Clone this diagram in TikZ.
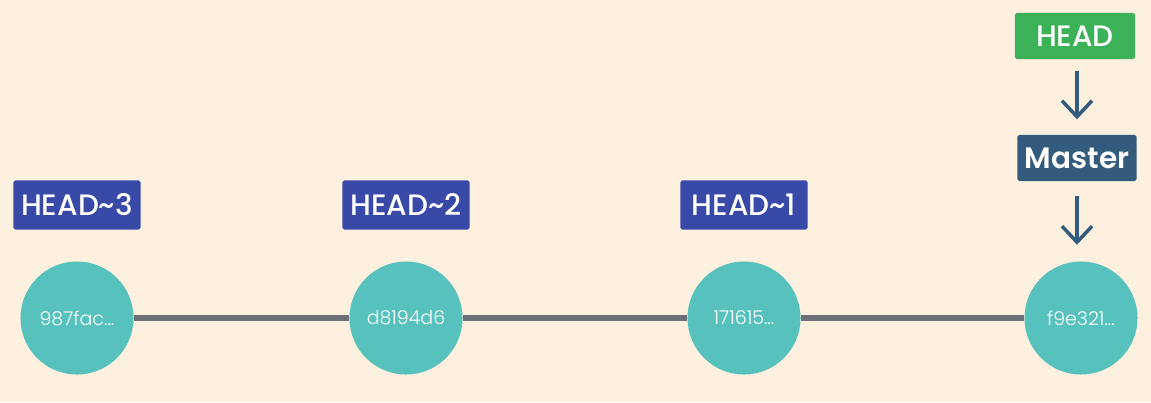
\documentclass[tikz,border=0pt]{standalone}
\usepackage{fontspec}
\usepackage{tikz}
\usepackage{xcolor}
\usetikzlibrary{arrows.meta}
\setmainfont{Poppins}
\newfontfamily\labelfont{Poppins Medium}
\newfontfamily\branchfont{Poppins SemiBold}
\newfontfamily\hashfont{Poppins Light}
\definecolor{paper}{HTML}{FDF0DF}
\definecolor{commitcol}{HTML}{57C2BD}
\definecolor{relcol}{HTML}{3949A8}
\definecolor{headcol}{HTML}{3BB257}
\definecolor{branchcol}{HTML}{335B7E}
\definecolor{linkcol}{HTML}{6B6F76}

\begin{document}
\begin{tikzpicture}[x=0.01cm, y=-0.01cm,
                    commit/.style={circle, fill=commitcol, minimum size=1.13cm, inner sep=0pt,
                                   text=white, font=\hashfont\fontsize{5.4}{6}\selectfont},
                    tag/.style={rounded corners=0.5pt, text=white, minimum width=1.27cm,
                                minimum height=0.49cm, inner sep=0pt,
                                font=\labelfont\fontsize{8.4}{10}\selectfont},
                    reltag/.style={tag, fill=relcol},
                    link/.style={draw=linkcol, line width=0.6mm},
                    pointer/.style={draw=branchcol, line width=0.35mm, -{Straight Barb[length=1.6mm, width=3mm]}}]
                    \fill[paper] (0,0) rectangle (1151,402);
                    \useasboundingbox (0,0) rectangle (1151,402);
                    % commits
                    \node[commit] (c3) at (77,318) {987fac...};
                    \node[commit] (c2) at (406,318) {d8194d6};
                    \node[commit] (c1) at (744,318) {171615...};
                    \node[commit] (c0) at (1081,318) {f9e321...};
                    \draw[link] (c3) -- (c2);
                    \draw[link] (c2) -- (c1);
                    \draw[link] (c1) -- (c0);
                    % relative refs
                    \node[reltag] (h3) at (77,205) {HEAD\textasciitilde3};
                    \node[reltag] (h2) at (406,205) {HEAD\textasciitilde2};
                    \node[reltag] (h1) at (744,205) {HEAD\textasciitilde1};
                    % HEAD -> Master -> commit
                    \node[tag, fill=headcol, minimum width=1.2cm, minimum height=0.46cm] (head) at (1075,36) {HEAD};
                    \node[tag, fill=branchcol, minimum width=1.19cm, minimum height=0.46cm,
                          font=\branchfont\fontsize{8.4}{10}\selectfont] (master) at (1077,158) {Master};
                    \draw[pointer] ([yshift=-0.11cm]head.south -| master.south) -- ([yshift=0.15cm]master.north);
                    \draw[pointer] ([yshift=-0.14cm]master.south) -- ([yshift=0.16cm]c0.north -| master.south);
                \end{tikzpicture}
\end{document}
